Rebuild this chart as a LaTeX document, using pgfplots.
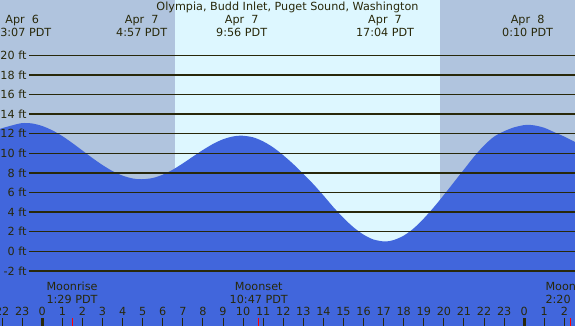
\documentclass[border=0pt]{standalone}
\usepackage{pgfplots}
\pgfplotsset{compat=1.18}
\usepackage{fontspec}
\setmainfont{DejaVu Sans}
\definecolor{night}{RGB}{176,196,222}
\definecolor{day}{RGB}{221,247,255}
\definecolor{tideblue}{RGB}{65,102,220}
\definecolor{ink}{RGB}{40,40,10}
\tikzset{lbl/.style={text=ink, inner sep=0pt, font=\fontsize{11.2}{13}\selectfont}}
\begin{document}
\begin{tikzpicture}
\begin{axis}[at={(0,0)}, anchor=south west, scale only axis, width=575pt, height=326pt,
  xmin=-2.107, xmax=26.53, ymin=-7.62, ymax=25.64,
  axis line style={draw=none}, ticks=none, clip=true]
\fill[night] (axis cs:-3,-9) rectangle (axis cs:28,27);
\fill[day] (axis cs:6.61,-9) rectangle (axis cs:19.8,27);
\addplot[fill=tideblue, draw=none, smooth] coordinates {
(-2.2,12.4) (-2.1,12.5) (-1.5,12.85) (-1.0,13.08) (-0.5,13.04) (0,12.78) (0.5,12.34)
(1,11.75) (1.5,11.04) (2,10.28) (2.5,9.51) (3,8.80) (3.5,8.18) (4,7.72) (4.5,7.43)
(4.95,7.35) (5.5,7.48) (6,7.82) (6.5,8.33) (7,8.97) (7.5,9.66) (8,10.34) (8.5,10.95)
(9,11.43) (9.5,11.72) (9.93,11.8) (10.5,11.63) (11,11.21) (11.5,10.6) (12,9.8)
(12.5,8.9) (13,7.9) (13.5,6.85) (14,5.7) (14.5,4.5) (15,3.4) (15.5,2.45) (16,1.7)
(16.5,1.2) (17.07,1.0) (17.5,1.15) (18,1.6) (18.5,2.35) (19,3.35) (19.5,4.5) (20,5.75)
(20.5,7.05) (21,8.35) (21.5,9.65) (22,10.8) (22.5,11.7) (23,12.25) (23.5,12.65)
(24,12.88) (24.17,12.9) (24.5,12.85) (25,12.6) (25.5,12.15) (26,11.7) (26.53,11.15) (26.6,11.07)
} -- (axis cs:26.6,-9) -- (axis cs:-2.2,-9) -- cycle;
% grid lines and labels
\pgfplotsinvokeforeach{-2,0,2,4,6,8,10,12,14,16,18,20}{
  \draw[ink, line width=1.3pt] (axis cs:-0.663,#1) -- (axis cs:27,#1);
  \node[lbl, anchor=east] at (axis cs:-0.78,#1) {#1 ft};
}
% hour ticks
\pgfplotsinvokeforeach{-2,-1,1,2,3,4,5,6,7,8,9,10,11,12,13,14,15,16,17,18,19,20,21,22,23,25,26}{
  \draw[ink, line width=1pt] (axis cs:#1,-6.81) -- (axis cs:#1,-8);
}
\draw[ink, line width=3.3pt] (axis cs:0,-6.81) -- (axis cs:0,-8);
\draw[ink, line width=3.3pt] (axis cs:24,-6.81) -- (axis cs:24,-8);
\pgfplotsinvokeforeach{1.48,10.78,26.33}{
  \draw[red, line width=1pt] (axis cs:#1,-6.81) -- (axis cs:#1,-8);
}
\pgfplotsinvokeforeach{0,1,2,3,4,5,6,7,8,9,10,11,12,13,14,15,16,17,18,19,20,21,22,23}{
  \node[lbl] at (axis cs:#1,-6.16) {#1};
}
\node[lbl] at (axis cs:-2,-6.16) {22};
\node[lbl] at (axis cs:-1,-6.16) {23};
\node[lbl] at (axis cs:24,-6.16) {0};
\node[lbl] at (axis cs:25,-6.16) {1};
\node[lbl] at (axis cs:26,-6.16) {2};
% moon
\node[lbl] at (axis cs:1.48,-3.6) {Moonrise};
\node[lbl] at (axis cs:1.48,-4.9) {1:29 PDT};
\node[lbl] at (axis cs:10.78,-3.6) {Moonset};
\node[lbl] at (axis cs:10.78,-4.9) {10:47 PDT};
\node[lbl] at (axis cs:26.33,-3.6) {Moonrise};
\node[lbl] at (axis cs:26.33,-4.9) {2:20 PDT};
% title and tide times
\node[lbl] at (axis cs:12.21,24.9) {Olympia, Budd Inlet, Puget Sound, Washington};
\node[lbl] at (axis cs:-1.0,23.55) {Apr\ \ 6};
\node[lbl] at (axis cs:-1.0,22.35) {23:07 PDT};
\node[lbl] at (axis cs:4.95,23.55) {Apr\ \ 7};
\node[lbl] at (axis cs:4.95,22.35) {4:57 PDT};
\node[lbl] at (axis cs:9.93,23.55) {Apr\ \ 7};
\node[lbl] at (axis cs:9.93,22.35) {9:56 PDT};
\node[lbl] at (axis cs:17.07,23.55) {Apr\ \ 7};
\node[lbl] at (axis cs:17.07,22.35) {17:04 PDT};
\node[lbl] at (axis cs:24.17,23.55) {Apr\ \ 8};
\node[lbl] at (axis cs:24.17,22.35) {0:10 PDT};
\end{axis}
\pgfresetboundingbox
\path[use as bounding box] (0,0) rectangle (575pt,326pt);
\end{tikzpicture}
\end{document}
